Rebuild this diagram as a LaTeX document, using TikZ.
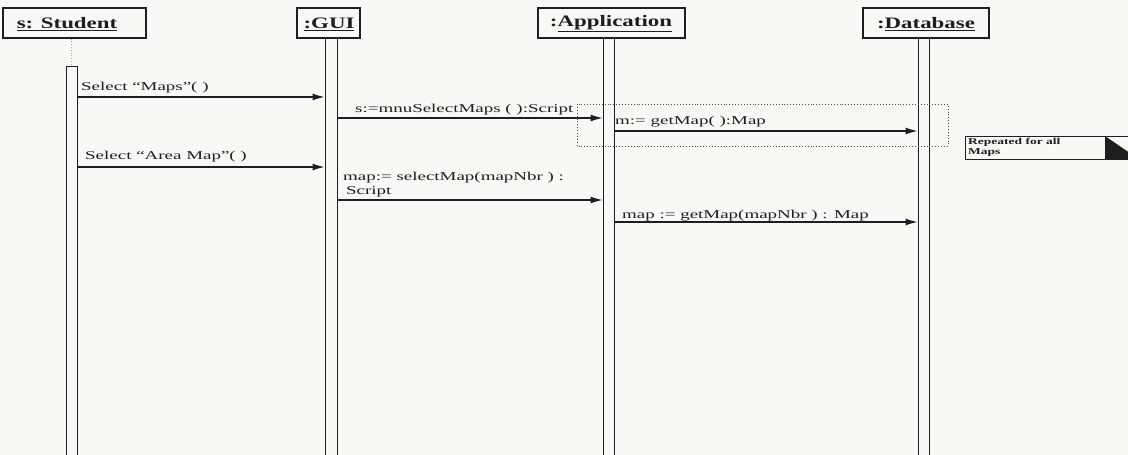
\documentclass[tikz,border=0pt]{standalone}
\usepackage{fontspec}
\setmainfont{Liberation Serif}
\newfontfamily\msgfont[FakeStretch=1.58]{Liberation Serif}
\newfontfamily\ttlfont[FakeStretch=1.43]{Liberation Serif}
\newfontfamily\notefont[FakeStretch=1.5]{Liberation Serif}
\usetikzlibrary{arrows.meta}
\definecolor{bg}{RGB}{248,249,244}
\definecolor{ink}{RGB}{30,30,30}
\begin{document}
\begin{tikzpicture}[x=1pt,y=-1pt,
  objbox/.style={draw=ink,line width=1.2pt,minimum height=30pt,inner sep=0pt},
  ttl/.style={font=\ttlfont\fontsize{16}{18}\selectfont\bfseries,text=ink,inner sep=0pt},
  actbar/.style={draw=ink,line width=1pt,fill=bg,inner sep=0pt},
  msg/.style={draw=ink,line width=1.1pt,-{Latex[length=12pt,width=7pt]}},
  lbl/.style={font=\msgfont\fontsize{12}{14}\selectfont,text=ink,inner sep=0pt,anchor=base west},
  loopbox/.style={draw=ink!80,line width=0.9pt,dotted},
  notebox/.style={draw=ink,line width=1pt,fill=bg}
]
\fill[bg] (0,0) rectangle (1128,455);
\useasboundingbox (0,0) rectangle (1128,455);

% object boxes
\node[objbox,minimum width=143pt] (stu) at (74.5,23) {};
\node[ttl] (stut) at (67,24) {\underline{s: Student}};
\node[objbox,minimum width=63pt] (gui) at (328.5,23) {};
\node[ttl] (guit) at (329,24) {\underline{:GUI}};
\node[objbox,minimum width=147pt] (app) at (611.5,23) {};
\node[ttl] (appt) at (611,24) {:\underline{Application}};
\node[objbox,minimum width=126pt] (db) at (926,23) {};
\node[ttl] (dbt) at (926,24) {:\underline{Database}};

% activation bars
\node[actbar,minimum width=11pt,minimum height=400pt,anchor=north] (sbar) at (71.5,66) {};
\node[actbar,minimum width=12pt,minimum height=430pt,anchor=north] (gbar) at (331,38) {};
\node[actbar,minimum width=11pt,minimum height=430pt,anchor=north] (abar) at (608.5,38) {};
\node[actbar,minimum width=11pt,minimum height=430pt,anchor=north] (dbar) at (923.5,38) {};

% dotted lifeline of student
\draw[ink!40,line width=0.8pt,dotted] (stu.south -| sbar.north) -- (sbar.north);

% loop frame
\coordinate (lpa) at (577,104);
\coordinate (lpb) at (948,146);
\draw[loopbox] (lpa) rectangle (lpb);

% messages
\draw[msg] (sbar.east |- 0,97) -- (gbar.west |- 0,97);
\node[lbl] (m1) at (81,90) {Select “Maps”( )};

\draw[msg] (gbar.east |- 0,118) -- (abar.west |- 0,118);
\node[lbl] (m2) at (355,112) {s:=mnuSelectMaps ( ):Script};

\draw[msg] (abar.east |- 0,131) -- (dbar.west |- 0,131);
\node[lbl] (m3) at (615,124) {m:= getMap( ):Map};

\draw[msg] (sbar.east |- 0,167) -- (gbar.west |- 0,167);
\node[lbl] (m4) at (85,159) {Select “Area Map”( )};

\draw[msg] (gbar.east |- 0,200) -- (abar.west |- 0,200);
\node[lbl] (m5) at (343,180) {map:= selectMap(mapNbr ) :};
\node[lbl] (m5b) at (346,194) {Script};

\draw[msg] (abar.east |- 0,222) -- (dbar.west |- 0,222);
\node[lbl] (m6) at (622,218) {map := getMap(mapNbr ) : Map};

% note
\coordinate (na) at (965,136);
\coordinate (nb) at (1135,159);
\draw[notebox] (na) rectangle (nb);
\fill[ink] (1105,136) -- (1105,159) -- (1140,159) -- (1140,160) -- cycle;
\node[font=\notefont\fontsize{9}{10}\selectfont\bfseries,text=ink,inner sep=0pt,anchor=north west,align=left] (nt) at (968,138) {Repeated for all\\Maps};
\end{tikzpicture}
\end{document}
